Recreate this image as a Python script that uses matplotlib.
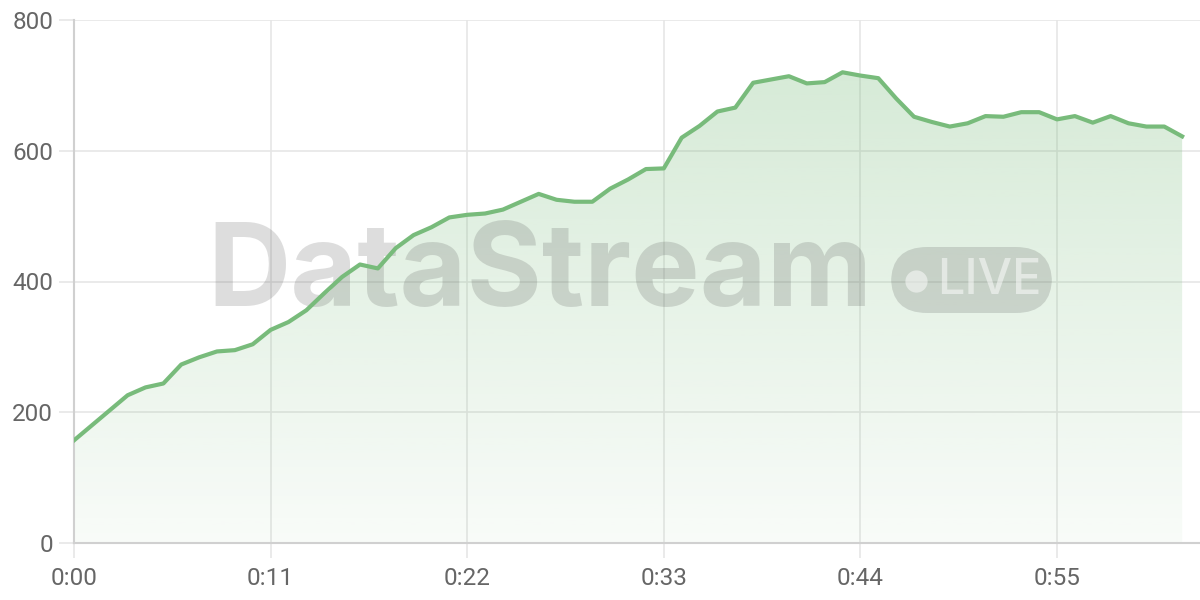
import numpy as np
import matplotlib.pyplot as plt
from matplotlib.patches import FancyBboxPatch
from matplotlib.lines import Line2D

# seconds elapsed and measured value
seconds = list(range(63))
values = [157, 180, 203, 226, 238, 244, 273, 284, 293, 295,
          304, 326, 338, 356, 382, 407, 426, 420, 451, 471,
          483, 498, 502, 504, 510, 522, 534, 525, 522, 522,
          542, 556, 572, 573, 620, 638, 660, 666, 704, 709,
          714, 703, 705, 720, 715, 711, 680, 652, 644, 637,
          642, 653, 652, 659, 659, 648, 653, 643, 653, 642,
          637, 637, 622]
x_ticks = [0, 11, 22, 33, 44, 55]
y_ticks = [0, 200, 400, 600, 800]

plt.rcParams['font.family'] = ['Roboto', 'DejaVu Sans']

fig = plt.figure(figsize=(12, 6), dpi=100)
ax = fig.add_axes([74 / 1200, 57 / 600, 1 - 74 / 1200, 523 / 600])

line_color = '#78bb7b'
x = np.array(seconds)
y = np.array(values)

# gradient fill under the line
fill = ax.fill_between(x, 0, y, color='none')
grad = np.linspace(0.05, 0.33, 256).reshape(-1, 1)
rgba = np.zeros((256, 1, 4))
rgba[..., 0] = 0x78 / 255
rgba[..., 1] = 0xbb / 255
rgba[..., 2] = 0x7b / 255
rgba[..., 3] = grad
img = ax.imshow(rgba, aspect='auto', origin='lower',
                extent=[0, 62, 0, 800], zorder=1)
path = fill.get_paths()[0]
img.set_clip_path(path, transform=ax.transData)

ax.plot(x, y, color=line_color, linewidth=3, zorder=5, solid_joinstyle='round')

ax.set_xlim(0, 63)
ax.set_ylim(0, 800)
ax.set_xticks(x_ticks)
ax.set_xticklabels(['0:%02d' % s for s in x_ticks])
ax.set_yticks(y_ticks)

ax.grid(True, color='#e6e6e6', linewidth=1.2, zorder=0)
ax.set_axisbelow(True)
ax.tick_params(axis='both', length=11, width=1.2, color='#e6e6e6',
               labelsize=17.5, labelcolor='#666666')
ax.tick_params(axis='x', pad=6)
ax.tick_params(axis='y', pad=4)
for side in ['top', 'right']:
    ax.spines[side].set_visible(False)
ax.spines['left'].set_color('#d0d0d0')
ax.spines['bottom'].set_color('#d0d0d0')
ax.spines['left'].set_linewidth(1.5)
ax.spines['bottom'].set_linewidth(1.5)

# watermark (under the line)
ax.text(540 / 1200, 1 - 276 / 600, 'DataStream', fontsize=83, fontweight='bold',
        family=['Inter', 'DejaVu Sans'], color='#444444', alpha=0.18,
        ha='center', va='center', zorder=2, transform=fig.transFigure)
pill = FancyBboxPatch((891 / 1200, 1 - 313 / 600), 161 / 1200, 66 / 600,
                      boxstyle='round,pad=0,rounding_size=0.03',
                      transform=fig.transFigure, facecolor='#444444',
                      alpha=0.18, edgecolor='none', zorder=2,
                      mutation_aspect=2)
ax.add_artist(pill)
ax.add_artist(Line2D([916 / 1200], [1 - 281 / 600], marker='o', markersize=16,
                     color='white', alpha=0.5, markeredgewidth=0,
                     transform=fig.transFigure, zorder=3))
ax.text(937 / 1200, 1 - 281 / 600, 'LIVE', fontsize=35, fontweight='medium',
        family=['Inter', 'DejaVu Sans'], color='white', alpha=0.5,
        ha='left', va='center', zorder=3, transform=fig.transFigure)

fig.savefig('out.png', dpi=100)
